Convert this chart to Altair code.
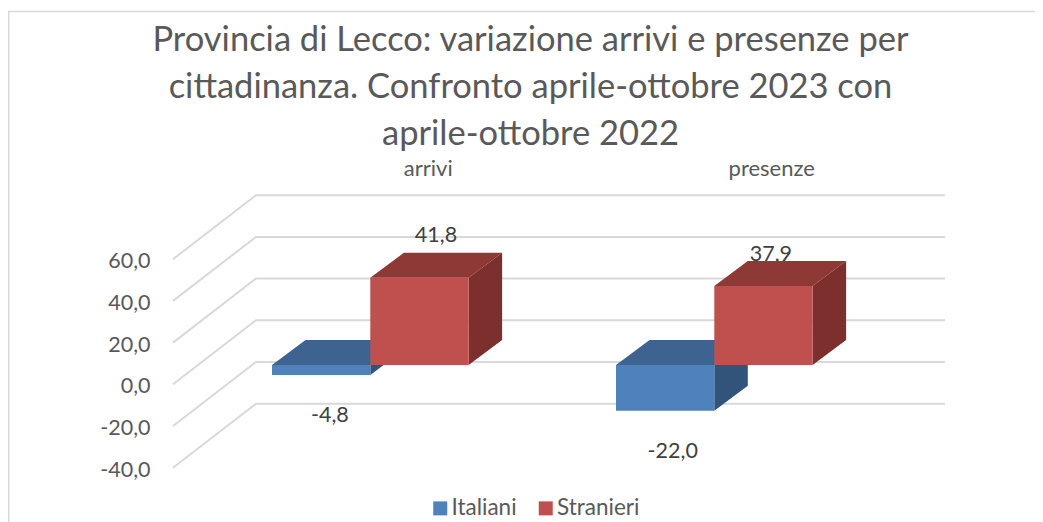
import altair as alt
import pandas as pd

title_lines = ["Provincia di Lecco: variazione arrivi e presenze per",
               "cittadinanza. Confronto aprile-ottobre 2023 con",
               "aprile-ottobre 2022"]
categories = ["arrivi", "presenze"]
series = ["Italiani", "Stranieri"]
values = {"Italiani": [-4.8, -22.0], "Stranieri": [41.8, 37.9]}
ticks = [60, 40, 20, 0, -20, -40]

FONT = "Lato"
W, H = 1027, 372
PX = 2.085            # pixels per unit of value
OX = 8                # page margin
TOP = 150             # page y of the plot's top
ZERO = 384.3          # page y of value 0 on the front edge of the floor
Y_MAX = (ZERO - TOP) / PX
Y_MIN = (ZERO - TOP - H) / PX
xs = alt.Scale(domain=[0, W], range=[0, W], nice=False, zero=False)
ys = alt.Scale(domain=[Y_MIN, Y_MAX], nice=False, zero=False)
X = lambda f="x": alt.X(f"{f}:Q", scale=xs, axis=None)
y_axis = alt.Axis(
    values=ticks, title=None, domain=False, ticks=False, grid=False, orient="left",
    offset=-142, labelPadding=0, labelOffset=2.5, format=".1f",
    labelExpr="replace(replace(datum.label,'.',','),'\u2212','-')",
    labelFont=FONT, labelFontSize=21.5, labelColor="#595959")
Y = lambda **kw: alt.Y("y:Q", scale=ys, axis=y_axis, **kw)

# perspective
wall_dx, wall_dy = 83 , 64 / PX
plane_dy = 19.3 / PX          # bars stand this far behind the front edge
bar_dx, bar_dy = 33.5, 25 / PX
bar_w = 98.3
group_left = {"arrivi": 272 - OX, "presenze": 616 - OX}
label_dx = {("arrivi", "Italiani"): 8.7, ("arrivi", "Stranieri"): 16.5,
            ("presenze", "Italiani"): 7.6, ("presenze", "Stranieri"): 7.4}
label_dy = {("arrivi", "Italiani"): -41, ("arrivi", "Stranieri"): 41.6,
            ("presenze", "Italiani"): -41, ("presenze", "Stranieri"): 31.4}
cat_x = {"arrivi": 428.3 - OX, "presenze": 771.7 - OX}
faces = {"Italiani": ("#4F81BD", "#3E6391", "#32547B"),
         "Stranieri": ("#C0504D", "#8E3936", "#7C2F2D")}

# gridlines
grid_rows = []
for t in ticks:
    x0 = 173 - OX
    grid_rows += [{"t": t, "x": x0, "y": t},
                  {"t": t, "x": x0 + wall_dx, "y": t + wall_dy},
                  {"t": t, "x": 945 - OX, "y": t + wall_dy}]
grid = alt.Chart(pd.DataFrame(grid_rows)).mark_line(color="#D9D9D9", strokeWidth=2).encode(
    x=X(), y=Y(), detail="t:N")

# text above the bars
lab_rows = []
for si, s in enumerate(series):
    for ci, c in enumerate(categories):
        v = values[s][ci]
        lab_rows.append({"x": group_left[c] + si * bar_w + bar_w / 2 + label_dx[(c, s)],
                         "y": v + plane_dy + label_dy[(c, s)] / PX,
                         "t": f"{v:.1f}".replace(".", ",")})
data_labels = alt.Chart(pd.DataFrame(lab_rows)).mark_text(
    font=FONT, fontSize=21.5, color="#404040", baseline="middle").encode(
    x=X(), y=Y(), text="t:N")

cat_labels = alt.Chart(pd.DataFrame(
    {"x": [cat_x[c] for c in categories], "y": [(ZERO - 168.5) / PX] * 2, "t": categories}
)).mark_text(font=FONT, fontSize=22, color="#595959", baseline="middle").encode(
    x=X(), y=Y(), text="t:N")

layers = [grid, cat_labels, data_labels]

# bars
legend = alt.Legend(title=None, orient="none", legendX=433 - OX - 4, legendY=508 - TOP - 11,
                    direction="horizontal", symbolType="square", symbolSize=196,
                    symbolStrokeWidth=0, symbolOpacity=1, labelFont=FONT, labelFontSize=22.5,
                    labelColor="#595959", columnPadding=17.5, labelOffset=0, padding=0)
color = alt.Color("s:N", scale=alt.Scale(domain=series, range=[faces[s][0] for s in series]),
                  legend=legend)
for si, s in enumerate(series):
    top_rows, side_rows, front_rows = [], [], []
    for ci, c in enumerate(categories):
        v = values[s][ci]
        hi, lo = max(v, 0) + plane_dy, min(v, 0) + plane_dy
        x0 = group_left[c] + si * bar_w
        x1 = x0 + bar_w
        top_rows += [
            {"c": c, "x": x0, "y": hi, "y2": hi},
            {"c": c, "x": x0 + bar_dx, "y": hi, "y2": hi + bar_dy},
            {"c": c, "x": x1, "y": hi, "y2": hi + bar_dy},
            {"c": c, "x": x1 + bar_dx, "y": hi + bar_dy, "y2": hi + bar_dy}]
        side_rows += [
            {"c": c, "x": x1, "y": lo, "y2": hi},
            {"c": c, "x": x1 + bar_dx, "y": lo + bar_dy, "y2": hi + bar_dy}]
        front_rows.append({"s": s, "x": x0, "x2": x1, "y": lo, "y2": hi})
    for rows, fill in ((top_rows, faces[s][1]), (side_rows, faces[s][2])):
        layers.append(alt.Chart(pd.DataFrame(rows)).mark_area(
            color=fill, orient="vertical", interpolate="linear").encode(
            x=X(), y=Y(stack=None), y2="y2:Q", detail="c:N"))
    layers.append(alt.Chart(pd.DataFrame(front_rows)).mark_rect().encode(
        x=X(), x2="x2:Q", y=Y(), y2="y2:Q", color=color))

# outer frame of the picture
frame_top = alt.Chart(pd.DataFrame({"a": [0]})).mark_rule(color="#D9D9D9", strokeWidth=1.5).encode(
    x=alt.value(0), x2=alt.value(W), y=alt.value(11.5 - TOP))
frame_left = alt.Chart(pd.DataFrame({"a": [0]})).mark_rule(color="#D9D9D9", strokeWidth=1.5).encode(
    x=alt.value(0.75), y=alt.value(11.5 - TOP), y2=alt.value(H))
layers += [frame_top, frame_left]

chart = alt.layer(*layers).properties(
    width=W, height=H,
    autosize=alt.AutoSizeParams(type="none"),
    padding={"left": 0, "top": TOP - 8, "right": 0, "bottom": 0},
    title=alt.TitleParams(text=title_lines, font=FONT, fontSize=34.5, fontWeight="normal",
                          color="#595959", lineHeight=47, anchor="middle", dx=9, dy=146),
    background="white",
).configure_view(stroke=None)

chart.save("out.html", embed_options={"renderer": "svg", "actions": False})
